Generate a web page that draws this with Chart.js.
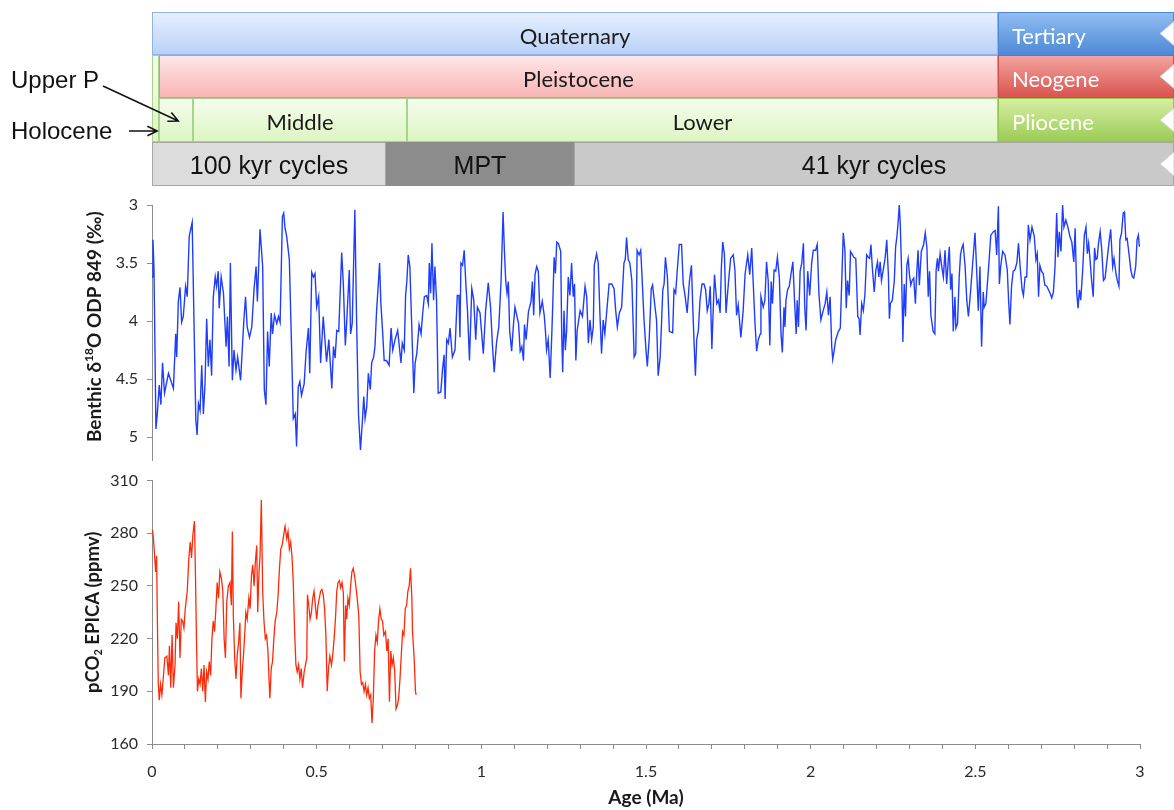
<!DOCTYPE html>
<html>
<head>
<meta charset="utf-8">
<script src="https://cdn.jsdelivr.net/npm/chart.js@4.4.1/dist/chart.umd.min.js"></script>
<style>
  html, body { margin: 0; padding: 0; background: #fff; }
  #wrap { position: relative; width: 1174px; height: 810px; }
  #chart-d18o { position: absolute; left: 0; top: 0; }
  #chart-co2 { position: absolute; left: 0; top: 462px; }
</style>
</head>
<body>
<div id="wrap">
  <canvas id="chart-d18o" width="1174" height="479" style="width:1174px;height:479px"></canvas>
  <canvas id="chart-co2" width="1174" height="348" style="width:1174px;height:348px"></canvas>
</div>
<script>
// Benthic d18O, ODP 849 (age in Ma, value in permil)
const benthicAge = [
  0.000, 0.003, 0.006, 0.012, 0.016, 0.022, 0.027, 0.032, 0.038, 0.050,
  0.065, 0.072, 0.075, 0.080, 0.085, 0.090, 0.095, 0.102, 0.107, 0.113,
  0.122, 0.133, 0.137, 0.141, 0.146, 0.151, 0.156, 0.161, 0.166, 0.171,
  0.176, 0.181, 0.186, 0.192, 0.196, 0.201, 0.204, 0.210, 0.217, 0.225,
  0.229, 0.234, 0.238, 0.244, 0.249, 0.255, 0.260, 0.269, 0.279, 0.284,
  0.289, 0.296, 0.303, 0.310, 0.316, 0.320, 0.328, 0.336, 0.341, 0.346,
  0.351, 0.356, 0.362, 0.366, 0.372, 0.379, 0.384, 0.389, 0.396, 0.400,
  0.404, 0.409, 0.417, 0.424, 0.429, 0.435, 0.439, 0.444, 0.449, 0.454,
  0.462, 0.468, 0.475, 0.479, 0.485, 0.490, 0.495, 0.500, 0.506, 0.512,
  0.520, 0.530, 0.537, 0.546, 0.551, 0.556, 0.561, 0.567, 0.576, 0.581,
  0.587, 0.591, 0.599, 0.603, 0.608, 0.616, 0.621, 0.627, 0.633, 0.639,
  0.643, 0.647, 0.652, 0.657, 0.663, 0.667, 0.673, 0.677, 0.682, 0.687,
  0.691, 0.695, 0.700, 0.705, 0.712, 0.720, 0.726, 0.731, 0.738, 0.746,
  0.751, 0.756, 0.760, 0.766, 0.770, 0.774, 0.778, 0.783, 0.788, 0.795,
  0.799, 0.804, 0.811, 0.817, 0.822, 0.827, 0.834, 0.839, 0.842, 0.846,
  0.850, 0.855, 0.859, 0.864, 0.869, 0.877, 0.882, 0.887, 0.890, 0.895,
  0.900, 0.905, 0.912, 0.920, 0.927, 0.932, 0.935, 0.938, 0.943, 0.948,
  0.953, 0.958, 0.964, 0.971, 0.977, 0.983, 0.988, 0.996, 1.006, 1.013,
  1.021, 1.028, 1.034, 1.039, 1.046, 1.053, 1.060, 1.066, 1.070, 1.074,
  1.078, 1.082, 1.086, 1.092, 1.097, 1.102, 1.113, 1.118, 1.123, 1.128,
  1.131, 1.136, 1.143, 1.151, 1.155, 1.159, 1.163, 1.168, 1.173, 1.178,
  1.185, 1.191, 1.195, 1.198, 1.203, 1.209, 1.214, 1.217, 1.221, 1.225,
  1.229, 1.234, 1.241, 1.244, 1.247, 1.251, 1.255, 1.259, 1.264, 1.269,
  1.274, 1.279, 1.283, 1.287, 1.291, 1.300, 1.307, 1.315, 1.320, 1.325,
  1.330, 1.335, 1.340, 1.343, 1.350, 1.355, 1.360, 1.365, 1.370, 1.375,
  1.381, 1.388, 1.396, 1.403, 1.408, 1.413, 1.419, 1.426, 1.433, 1.437,
  1.441, 1.446, 1.451, 1.457, 1.464, 1.469, 1.473, 1.479, 1.484, 1.488,
  1.494, 1.500, 1.504, 1.510, 1.516, 1.520, 1.525, 1.532, 1.537, 1.543,
  1.547, 1.551, 1.555, 1.559, 1.565, 1.571, 1.581, 1.585, 1.590, 1.595,
  1.601, 1.608, 1.613, 1.619, 1.625, 1.632, 1.638, 1.642, 1.646, 1.650,
  1.654, 1.659, 1.664, 1.670, 1.676, 1.681, 1.686, 1.691, 1.695, 1.700,
  1.704, 1.708, 1.715, 1.720, 1.725, 1.729, 1.733, 1.738, 1.743, 1.750,
  1.757, 1.765, 1.770, 1.775, 1.780, 1.788, 1.795, 1.801, 1.809, 1.815,
  1.821, 1.826, 1.831, 1.836, 1.841, 1.847, 1.849, 1.856, 1.861, 1.866,
  1.871, 1.876, 1.880, 1.884, 1.889, 1.894, 1.899, 1.905, 1.910, 1.914,
  1.919, 1.922, 1.925, 1.930, 1.935, 1.940, 1.946, 1.951, 1.956, 1.959,
  1.963, 1.968, 1.973, 1.978, 1.982, 1.986, 1.991, 1.997, 2.003, 2.008,
  2.015, 2.020, 2.025, 2.031, 2.038, 2.044, 2.049, 2.054, 2.059, 2.064,
  2.067, 2.071, 2.076, 2.084, 2.090, 2.094, 2.099, 2.104, 2.108, 2.112,
  2.117, 2.121, 2.127, 2.131, 2.137, 2.143, 2.147, 2.150, 2.155, 2.160,
  2.165, 2.170, 2.175, 2.179, 2.183, 2.187, 2.193, 2.198, 2.203, 2.207,
  2.211, 2.215, 2.222, 2.226, 2.231, 2.236, 2.239, 2.242, 2.248, 2.254,
  2.258, 2.262, 2.266, 2.269, 2.272, 2.276, 2.280, 2.284, 2.288, 2.292,
  2.296, 2.300, 2.304, 2.308, 2.313, 2.318, 2.322, 2.326, 2.330, 2.336,
  2.343, 2.348, 2.353, 2.357, 2.361, 2.365, 2.372, 2.377, 2.381, 2.385,
  2.388, 2.393, 2.398, 2.403, 2.408, 2.413, 2.418, 2.421, 2.425, 2.429,
  2.433, 2.438, 2.441, 2.446, 2.451, 2.455, 2.459, 2.463, 2.469, 2.474,
  2.479, 2.486, 2.492, 2.499, 2.504, 2.509, 2.514, 2.519, 2.524, 2.527,
  2.532, 2.539, 2.547, 2.555, 2.560, 2.565, 2.570, 2.573, 2.577, 2.583,
  2.590, 2.597, 2.601, 2.605, 2.610, 2.615, 2.620, 2.626, 2.631, 2.636,
  2.642, 2.646, 2.651, 2.656, 2.661, 2.666, 2.672, 2.679, 2.684, 2.688,
  2.692, 2.696, 2.701, 2.706, 2.711, 2.717, 2.722, 2.727, 2.732, 2.737,
  2.742, 2.747, 2.751, 2.755, 2.760, 2.765, 2.769, 2.775, 2.781, 2.787,
  2.793, 2.799, 2.803, 2.808, 2.812, 2.816, 2.820, 2.826, 2.831, 2.836,
  2.840, 2.844, 2.848, 2.853, 2.858, 2.862, 2.866, 2.870, 2.874, 2.879,
  2.884, 2.889, 2.894, 2.899, 2.906, 2.911, 2.917, 2.921, 2.927, 2.931,
  2.936, 2.939, 2.944, 2.949, 2.953, 2.957, 2.961, 2.967, 2.972, 2.977,
  2.981, 2.987, 2.991, 2.995, 2.998
];
const benthicD18O = [
  3.62, 3.30, 3.55, 4.93, 4.80, 4.55, 4.72, 4.36, 4.62, 4.45,
  4.58, 4.11, 4.31, 3.83, 3.71, 4.01, 3.96, 3.70, 3.79, 3.27,
  3.15, 4.85, 4.98, 4.71, 4.77, 4.38, 4.80, 4.54, 3.98, 4.39,
  4.16, 4.47, 3.80, 3.62, 3.70, 3.57, 3.89, 3.62, 3.76, 4.22,
  3.96, 4.39, 3.50, 4.51, 4.25, 4.42, 4.31, 4.51, 3.99, 3.79,
  4.05, 4.14, 4.05, 3.72, 3.53, 3.83, 3.21, 3.53, 4.59, 4.72,
  4.09, 4.39, 3.93, 4.11, 3.95, 4.02, 3.96, 4.01, 3.10, 3.07,
  3.20, 3.27, 3.47, 4.25, 4.84, 4.80, 5.08, 4.57, 4.52, 4.64,
  4.54, 4.26, 4.06, 4.45, 3.58, 3.62, 3.59, 3.88, 3.79, 4.36,
  3.96, 4.35, 4.16, 4.58, 4.22, 4.32, 4.08, 4.09, 3.41, 3.68,
  4.21, 4.02, 3.56, 4.11, 4.02, 3.04, 3.96, 4.80, 5.11, 4.85,
  4.65, 4.84, 4.74, 4.45, 4.59, 4.36, 4.31, 4.22, 3.91, 3.69,
  3.50, 3.85, 4.08, 4.34, 4.34, 4.38, 4.06, 4.25, 4.16, 4.08,
  4.22, 4.36, 4.19, 4.25, 3.78, 3.65, 3.43, 3.53, 3.98, 4.62,
  4.36, 4.28, 4.03, 4.11, 3.93, 3.79, 3.78, 3.85, 3.50, 3.76,
  3.33, 3.82, 3.53, 3.82, 4.62, 4.61, 4.42, 4.29, 4.67, 4.16,
  4.19, 4.06, 4.31, 4.25, 3.78, 3.78, 4.14, 3.50, 3.52, 3.39,
  3.68, 3.91, 4.34, 3.72, 3.82, 4.16, 3.88, 3.93, 4.28, 3.91,
  3.67, 3.88, 4.22, 4.44, 4.19, 4.05, 3.65, 3.06, 3.39, 3.65,
  3.76, 3.66, 4.08, 4.26, 4.05, 3.88, 4.02, 4.26, 4.22, 4.34,
  4.03, 4.16, 3.92, 3.83, 3.66, 3.95, 3.60, 3.53, 3.57, 3.93,
  3.83, 3.95, 4.10, 4.25, 4.16, 4.49, 4.11, 3.85, 3.45, 3.59,
  3.32, 3.33, 3.40, 4.11, 4.44, 3.91, 4.25, 4.08, 3.62, 3.78,
  3.50, 3.79, 3.68, 4.34, 4.08, 3.91, 3.96, 3.70, 3.79, 4.19,
  3.99, 4.16, 4.05, 3.52, 3.42, 3.50, 3.93, 4.28, 3.99, 4.11,
  3.91, 3.68, 3.68, 3.72, 3.91, 4.05, 3.93, 3.88, 3.50, 3.47,
  3.28, 3.47, 3.50, 3.65, 4.31, 4.28, 3.39, 3.43, 3.39, 3.62,
  3.99, 4.25, 4.39, 4.14, 3.72, 3.69, 3.82, 3.99, 4.47, 4.31,
  4.03, 3.73, 3.68, 3.45, 3.62, 4.09, 4.10, 3.73, 3.76, 3.56,
  3.34, 3.34, 3.68, 3.79, 3.93, 3.65, 3.52, 3.88, 4.19, 4.47,
  4.16, 4.08, 3.82, 3.68, 3.68, 3.73, 3.91, 3.85, 3.70, 4.24,
  3.91, 3.60, 3.85, 3.82, 3.93, 3.53, 3.32, 3.42, 3.93, 3.68,
  3.46, 3.43, 3.56, 3.95, 3.86, 4.14, 3.91, 3.59, 3.43, 3.60,
  3.37, 3.70, 4.02, 4.26, 4.16, 4.11, 3.79, 3.88, 3.82, 3.49,
  3.65, 4.21, 3.66, 3.85, 3.56, 3.57, 3.45, 3.63, 4.11, 4.27,
  3.88, 4.05, 3.82, 3.73, 3.70, 3.60, 3.49, 3.82, 4.11, 3.82,
  4.05, 3.57, 3.50, 3.33, 3.88, 4.08, 3.57, 3.78, 3.50, 3.39,
  3.39, 3.34, 3.76, 3.99, 3.91, 3.85, 3.75, 3.95, 3.79, 4.22,
  4.33, 4.26, 4.16, 4.09, 4.06, 3.69, 3.24, 3.39, 3.89, 3.65,
  3.78, 3.40, 3.43, 3.45, 3.46, 3.96, 3.98, 4.12, 3.85, 3.91,
  3.76, 3.43, 3.45, 3.46, 3.34, 3.53, 3.75, 3.56, 3.49, 3.62,
  3.49, 3.65, 3.53, 3.46, 3.30, 3.60, 3.98, 3.85, 3.82, 3.65,
  3.36, 3.27, 3.13, 3.00, 3.16, 3.56, 4.18, 3.68, 3.96, 3.52,
  3.46, 3.60, 3.69, 3.65, 3.63, 3.85, 3.59, 3.39, 3.69, 3.40,
  3.34, 3.24, 3.37, 3.79, 3.57, 3.95, 4.09, 4.11, 3.56, 3.46,
  3.57, 3.42, 3.53, 3.62, 3.39, 3.68, 3.47, 3.36, 3.73, 3.59,
  4.09, 3.79, 4.06, 4.02, 3.62, 3.43, 3.37, 3.34, 3.53, 3.82,
  3.96, 3.73, 3.50, 3.24, 3.56, 3.91, 3.53, 4.22, 3.75, 3.88,
  3.85, 3.59, 3.26, 3.23, 3.22, 3.43, 3.01, 3.68, 3.53, 3.40,
  3.43, 3.56, 3.82, 4.03, 3.70, 3.57, 3.56, 3.50, 3.33, 3.53,
  3.73, 3.78, 3.62, 3.62, 3.17, 3.30, 3.19, 3.27, 3.47, 3.42,
  3.79, 3.52, 3.57, 3.59, 3.69, 3.70, 3.73, 3.76, 3.80, 3.75,
  3.53, 3.07, 3.45, 3.23, 3.40, 3.00, 3.19, 3.13, 3.19, 3.27,
  3.32, 3.49, 3.20, 3.76, 3.89, 3.73, 3.82, 3.56, 3.26, 3.19,
  3.42, 3.33, 3.46, 3.65, 3.79, 3.37, 3.47, 3.46, 3.33, 3.23,
  3.39, 3.65, 3.63, 3.50, 3.32, 3.21, 3.53, 3.46, 3.59, 3.65,
  3.70, 3.30, 3.24, 3.07, 3.06, 3.30, 3.29, 3.43, 3.56, 3.62,
  3.63, 3.53, 3.30, 3.26, 3.36
];

// pCO2 from EPICA Dome C (age in Ma, ppmv)
const co2Age = [
  0.001, 0.004, 0.008, 0.011, 0.014, 0.016, 0.019, 0.022, 0.026, 0.030,
  0.034, 0.039, 0.045, 0.050, 0.053, 0.057, 0.061, 0.065, 0.070, 0.073,
  0.077, 0.081, 0.085, 0.089, 0.093, 0.097, 0.101, 0.107, 0.112, 0.116,
  0.120, 0.124, 0.129, 0.132, 0.135, 0.138, 0.142, 0.146, 0.150, 0.154,
  0.158, 0.162, 0.166, 0.170, 0.174, 0.178, 0.182, 0.186, 0.190, 0.194,
  0.198, 0.202, 0.206, 0.211, 0.215, 0.219, 0.223, 0.227, 0.232, 0.237,
  0.241, 0.244, 0.247, 0.251, 0.255, 0.259, 0.263, 0.267, 0.270, 0.274,
  0.278, 0.282, 0.285, 0.289, 0.294, 0.298, 0.302, 0.306, 0.310, 0.314,
  0.318, 0.321, 0.325, 0.328, 0.332, 0.336, 0.340, 0.344, 0.348, 0.352,
  0.356, 0.358, 0.362, 0.366, 0.370, 0.374, 0.379, 0.383, 0.387, 0.391,
  0.395, 0.399, 0.404, 0.409, 0.413, 0.417, 0.421, 0.425, 0.429, 0.433,
  0.437, 0.441, 0.445, 0.449, 0.453, 0.457, 0.462, 0.466, 0.470, 0.472,
  0.476, 0.480, 0.484, 0.488, 0.492, 0.496, 0.500, 0.504, 0.508, 0.512,
  0.516, 0.520, 0.524, 0.528, 0.532, 0.536, 0.540, 0.545, 0.549, 0.553,
  0.557, 0.561, 0.565, 0.569, 0.573, 0.577, 0.581, 0.584, 0.588, 0.591,
  0.595, 0.599, 0.603, 0.607, 0.611, 0.615, 0.619, 0.623, 0.628, 0.632,
  0.636, 0.640, 0.644, 0.648, 0.652, 0.656, 0.660, 0.664, 0.668, 0.672,
  0.676, 0.680, 0.684, 0.688, 0.692, 0.696, 0.700, 0.704, 0.709, 0.713,
  0.717, 0.721, 0.725, 0.729, 0.733, 0.737, 0.741, 0.745, 0.749, 0.753,
  0.757, 0.761, 0.765, 0.769, 0.773, 0.777, 0.781, 0.785, 0.789, 0.791,
  0.796, 0.800, 0.802
];
const co2Ppm = [
  282, 278, 267, 258, 267, 235, 195, 185, 194, 188,
  197, 209, 210, 199, 216, 192, 222, 192, 205, 229,
  220, 241, 209, 231, 230, 226, 237, 247, 266, 275,
  266, 279, 287, 256, 220, 190, 197, 194, 203, 190,
  205, 184, 201, 197, 207, 199, 220, 230, 224, 237,
  252, 243, 258, 254, 247, 220, 209, 241, 250, 252,
  239, 281, 233, 209, 197, 211, 218, 229, 186, 201,
  211, 224, 235, 231, 243, 237, 256, 262, 250, 264,
  273, 235, 258, 267, 299, 247, 230, 220, 222, 213,
  194, 186, 203, 207, 220, 230, 235, 245, 260, 271,
  273, 278, 284, 277, 281, 271, 275, 267, 252, 224,
  205, 201, 205, 197, 203, 192, 201, 205, 209, 245,
  239, 231, 235, 243, 247, 239, 231, 239, 243, 247,
  248, 245, 237, 222, 190, 203, 210, 205, 211, 220,
  231, 247, 252, 253, 249, 252, 246, 207, 239, 231,
  243, 239, 250, 258, 260, 256, 250, 243, 233, 201,
  194, 195, 190, 194, 188, 192, 186, 188, 172, 186,
  213, 222, 218, 230, 237, 231, 230, 222, 224, 213,
  220, 184, 213, 205, 209, 201, 180, 182, 186, 197,
  211, 224, 222, 237, 239, 247, 250, 260, 243, 224,
  209, 190, 188
];

// axis ticks
const ageLabels = [0, 0.5, 1, 1.5, 2, 2.5, 3];
const d18oTicks = [3, 3.5, 4, 4.5, 5];
const co2Ticks = [160, 190, 220, 250, 280, 310];

// timescale bars above the chart: [label, from Ma, to Ma]
const periodRow = [['Quaternary', 0, 2.57], ['Tertiary', 2.57, 3.2]];
const epochRow = [['Pleistocene', 0.02, 2.57], ['Neogene', 2.57, 3.2]];
const stageRow = [['', 0.02, 0.125], ['Middle', 0.125, 0.773], ['Lower', 0.773, 2.57], ['Pliocene', 2.57, 3.2]];
const cycleRow = [['100 kyr cycles', 0, 0.71], ['MPT', 0.71, 1.28], ['41 kyr cycles', 1.28, 3.2]];
const holoceneSpan = [0, 0.02];

const unitStyle = {
  'Quaternary':  { fill: ['#e7f0ff', '#b8d0f7'], line: '#91b3e8', text: '#1a1a1a' },
  'Tertiary':    { fill: ['#93bef3', '#4c89d6'], line: '#4c89d6', text: '#fff', left: true },
  'Pleistocene': { fill: ['#ffe8e8', '#f8b3b3'], line: '#d99292', text: '#1a1a1a' },
  'Neogene':     { fill: ['#f4a5a1', '#d8524d'], line: '#cf4f4b', text: '#fff', left: true },
  'Pliocene':    { fill: ['#d7efa4', '#9bcb54'], line: '#96c64f', text: '#fff', left: true },
  'green':       { fill: ['#f6fdee', '#dcf5c1'], line: '#a8d38a', text: '#1a1a1a' },
  '100 kyr cycles': { fill: ['#dcdcdc', '#dcdcdc'], line: '#a6a6a6', text: '#111' },
  'MPT':            { fill: ['#8c8c8c', '#8c8c8c'], line: '#8c8c8c', text: '#111' },
  '41 kyr cycles':  { fill: ['#c9c9c9', '#c9c9c9'], line: '#a6a6a6', text: '#111' }
};

const axisGray = '#8c8c8c';
const tickFont = { family: 'Lato', size: 16 };

function fillBox(ctx, x0, y0, x1, y1, st) {
  const g = ctx.createLinearGradient(0, y0, 0, y1);
  g.addColorStop(0, st.fill[0]);
  g.addColorStop(1, st.fill[1]);
  ctx.fillStyle = g;
  ctx.fillRect(x0, y0, x1 - x0, y1 - y0);
  ctx.strokeStyle = st.line;
  ctx.lineWidth = 1;
  ctx.strokeRect(x0 + 0.5, y0 + 0.5, x1 - x0 - 1, y1 - y0 - 1);
}

function drawRow(chart, row, y0, y1, font) {
  const ctx = chart.ctx;
  const x = chart.scales.x;
  row.forEach(([label, from, to]) => {
    const st = unitStyle[label] || unitStyle.green;
    const x0 = Math.round(x.getPixelForValue(from));
    const x1 = Math.min(chart.width, Math.round(x.getPixelForValue(to)));
    fillBox(ctx, x0, y0, x1, y1, st);
    if (!label) return;
    ctx.font = font;
    ctx.fillStyle = st.text;
    ctx.textBaseline = 'middle';
    const ty = (y0 + y1) / 2 + 3;
    if (st.left) {
      ctx.textAlign = 'left';
      ctx.fillText(label, x0 + 14, ty);
    } else {
      ctx.textAlign = 'center';
      ctx.fillText(label, (x0 + x1) / 2, ty);
    }
  });
}

function arrow(ctx, x0, y0, x1, y1) {
  const a = Math.atan2(y1 - y0, x1 - x0);
  ctx.beginPath();
  ctx.moveTo(x0, y0);
  ctx.lineTo(x1, y1);
  ctx.moveTo(x1 - 11 * Math.cos(a - 0.45), y1 - 11 * Math.sin(a - 0.45));
  ctx.lineTo(x1, y1);
  ctx.lineTo(x1 - 11 * Math.cos(a + 0.45), y1 - 11 * Math.sin(a + 0.45));
  ctx.stroke();
}

// rotated axis title with super/subscript parts
function sideTitle(ctx, cx, cy, parts, size) {
  const big = 'bold ' + size + 'px Lato';
  const small = 'bold ' + Math.round(size * 0.62) + 'px Lato';
  ctx.save();
  ctx.translate(cx, cy);
  ctx.rotate(-Math.PI / 2);
  let total = 0;
  parts.forEach(p => { ctx.font = p[1] ? small : big; total += ctx.measureText(p[0]).width; });
  let x = -total / 2;
  ctx.fillStyle = '#1a1a1a';
  ctx.textAlign = 'left';
  ctx.textBaseline = 'middle';
  parts.forEach(p => {
    ctx.font = p[1] ? small : big;
    const dy = p[1] === 'sup' ? -size * 0.32 : (p[1] === 'sub' ? size * 0.3 : 0);
    ctx.fillText(p[0], x, dy);
    x += ctx.measureText(p[0]).width;
  });
  ctx.restore();
}

const timescalePlugin = {
  id: 'timescale',
  afterDraw(chart) {
    const ctx = chart.ctx;
    const x = chart.scales.x;
    const rows = [12, 55, 98, 142, 186];
    ctx.save();
    drawRow(chart, periodRow, rows[0], rows[1], '22px Lato');
    drawRow(chart, epochRow, rows[1], rows[2], '22px Lato');
    drawRow(chart, stageRow, rows[2], rows[3], '22px Lato');
    drawRow(chart, cycleRow, rows[3], rows[4], '25px "Liberation Sans"');
    // Holocene sliver across two rows
    fillBox(ctx, Math.round(x.getPixelForValue(holoceneSpan[0])), rows[1],
      Math.round(x.getPixelForValue(holoceneSpan[1])), rows[3], unitStyle.green);

    // continuation chevrons at the right edge
    ctx.fillStyle = '#fff';
    ctx.strokeStyle = '#d0d0d0';
    for (let i = 0; i < 4; i++) {
      const cy = (rows[i] + rows[i + 1]) / 2;
      ctx.beginPath();
      ctx.moveTo(chart.width, cy - 12);
      ctx.lineTo(chart.width - 14, cy);
      ctx.lineTo(chart.width, cy + 12);
      ctx.closePath();
      ctx.fill();
      ctx.stroke();
    }

    // side labels with arrows
    ctx.font = '24px "Liberation Sans"';
    ctx.fillStyle = '#111';
    ctx.textAlign = 'left';
    ctx.textBaseline = 'alphabetic';
    ctx.fillText('Upper P', 11, 88);
    ctx.fillText('Holocene', 11, 139);
    ctx.strokeStyle = '#111';
    ctx.lineWidth = 1.5;
    arrow(ctx, 103, 86, x.getPixelForValue(0.08), 121);
    arrow(ctx, 129, 131, x.getPixelForValue(0.016), 131);

    sideTitle(ctx, 95, (chart.chartArea.top + chart.chartArea.bottom) / 2 - 6,
      [['Benthic δ', null], ['18', 'sup'], ['O ODP 849 (‰)', null]], 19);
    ctx.restore();
  }
};

const co2TitlePlugin = {
  id: 'co2Titles',
  afterDraw(chart) {
    const ctx = chart.ctx;
    const area = chart.chartArea;
    ctx.save();
    sideTitle(ctx, 93, (area.top + area.bottom) / 2, [['pCO', null], ['2', 'sub'], [' EPICA (ppmv)', null]], 18.5);
    ctx.font = 'bold 19px Lato';
    ctx.fillStyle = '#1a1a1a';
    ctx.textAlign = 'center';
    ctx.textBaseline = 'middle';
    ctx.fillText('Age (Ma)', (area.left + area.right) / 2, area.bottom + 54);
    ctx.restore();
  }
};

function yAxis(min, max, tickValues, reverse) {
  return {
    min: min,
    max: max,
    reverse: reverse,
    afterFit: s => { s.width = 152; },
    afterBuildTicks: s => { s.ticks = tickValues.map(v => ({ value: v })); },
    grid: { drawOnChartArea: false, drawTicks: true, tickLength: 5, color: axisGray },
    border: { display: true, color: axisGray, width: 1 },
    ticks: { padding: 9, color: '#2a2a2a', font: tickFont, callback: v => String(v) }
  };
}

new Chart(document.getElementById('chart-d18o').getContext('2d'), {
  type: 'line',
  data: {
    datasets: [{
      data: benthicAge.map((a, i) => ({ x: a, y: benthicD18O[i] })),
      borderColor: '#1f3dff',
      borderWidth: 1.4,
      pointRadius: 0,
      tension: 0,
      fill: false
    }]
  },
  options: {
    responsive: false,
    animation: false,
    layout: { padding: { top: 205, right: 34, bottom: 2, left: 0 } },
    plugins: { legend: { display: false }, tooltip: { enabled: false } },
    scales: {
      x: { type: 'linear', min: 0, max: 3, display: false },
      y: yAxis(3, 5.2, d18oTicks, true)
    }
  },
  plugins: [timescalePlugin]
});

new Chart(document.getElementById('chart-co2').getContext('2d'), {
  type: 'line',
  data: {
    datasets: [{
      data: co2Age.map((a, i) => ({ x: a, y: co2Ppm[i] })),
      borderColor: '#ff2a0a',
      borderWidth: 1.3,
      pointRadius: 0,
      tension: 0,
      fill: false
    }]
  },
  options: {
    responsive: false,
    animation: false,
    layout: { padding: { top: 18, right: 34, bottom: 0, left: 0 } },
    plugins: { legend: { display: false }, tooltip: { enabled: false } },
    scales: {
      x: {
        type: 'linear',
        min: 0,
        max: 3,
        afterFit: s => { s.height = 66; },
        afterBuildTicks: s => {
          const t = [];
          for (let i = 0; i <= 30; i++) t.push({ value: i / 10 });
          s.ticks = t;
        },
        grid: { drawOnChartArea: false, drawTicks: true, tickLength: 5, color: axisGray },
        border: { display: true, color: axisGray, width: 1 },
        ticks: {
          autoSkip: false,
          maxRotation: 0,
          padding: 13,
          color: '#2a2a2a',
          font: tickFont,
          callback: v => {
            const hit = ageLabels.find(l => Math.abs(l - v) < 1e-6);
            return hit === undefined ? '' : String(hit);
          }
        }
      },
      y: yAxis(160, 310, co2Ticks, false)
    }
  },
  plugins: [co2TitlePlugin]
});
</script>
</body>
</html>
